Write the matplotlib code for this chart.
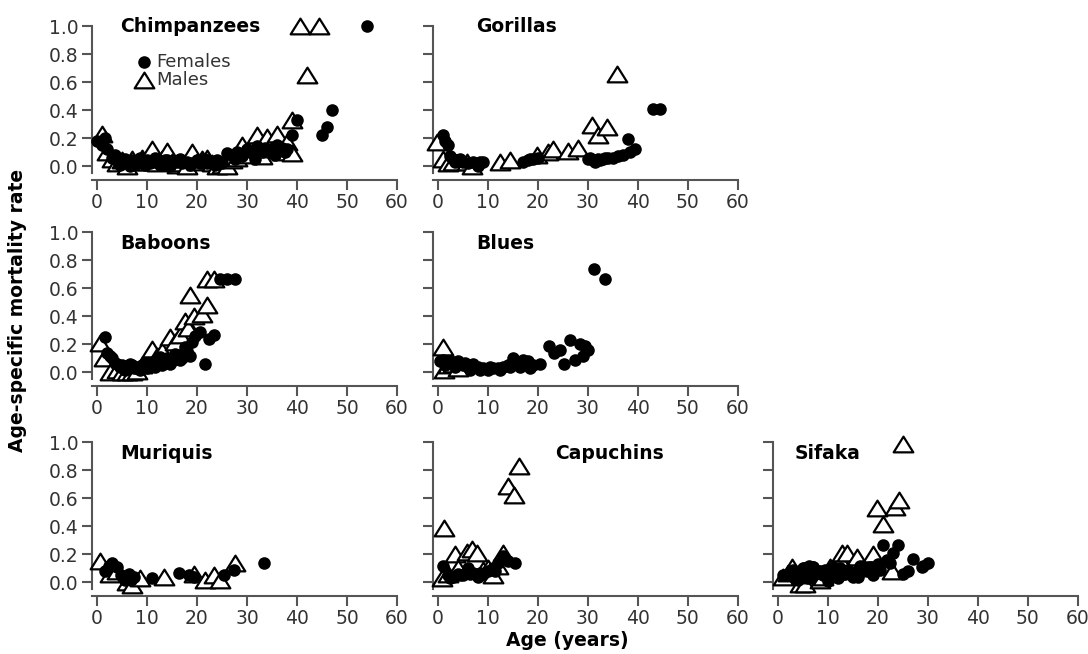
import numpy as np
import matplotlib.pyplot as plt
from matplotlib.path import Path

# age (years) / age-specific mortality rate
chimp_f_age = [0, 1, 2, 3, 4, 5, 6, 7, 8, 9, 10, 11, 12, 13, 14, 15, 16, 17, 18, 19, 20, 21, 22,
               23, 24, 25, 26, 27, 28, 29, 30, 31, 32, 33, 34, 35, 36, 37, 38, 39, 40, 45, 46, 47, 54,
               1.5, 3.5, 4.5, 5.5, 6.5, 7.5, 8.5, 9.5, 10.5, 11.5, 12.5, 13.5, 14.5, 16.5, 18.5,
               20.5, 21.5, 23.5, 27.5, 29.5, 31.5, 33.5, 35.5, 37.5]
chimp_f_rate = [.18, .15, .12, .06, .04, .03, .03, .04, .02, .03, .04, .03, .05, .03, .04, .02, .03,
                .02, .03, .02, .04, .03, .02, .03, .04, .02, .09, .08, .10, .07, .12, .09, .14, .10,
                .12, .09, .15, .13, .12, .22, .33, .22, .28, .40, 1.0,
                .20, .08, .01, .05, .0, .02, .06, .01, .02, .06, .01, .04, .0, .05, .01,
                .02, .05, .01, .05, .10, .05, .13, .08, .10]
chimp_m_age = [1, 2, 3, 4, 5, 6, 7, 8, 9, 10, 11, 12, 13, 14, 15, 16, 17, 18, 19, 20, 21, 22, 23,
               24, 25, 26, 27, 28, 29, 30, 31, 32, 33, 34, 35, 36, 37, 38, 39, 39, 40.6, 42, 44.3]
chimp_m_rate = [.23, .10, .05, .02, .04, .0, .05, .03, .06, .03, .12, .02, .05, .11, .03, .01, .02,
                .0, .10, .03, .05, .06, .02, .0, .01, .0, .04, .06, .15, .08, .14, .22, .07, .21,
                .12, .23, .10, .17, .09, .33, 1.0, .65, 1.0]

gorilla_f_age = [1, 2, 2.5, 4, 5, 6, 8, 8.5, 17, 18, 19, 20, 30, 31, 32, 33, 34, 35, 36, 37, 38,
                 39.5, 43, 44.5, 1.5, 3, 3.5, 4.5, 7, 9, 18.5, 30.5, 31.5, 32.5, 33.5, 38.5]
gorilla_f_rate = [.22, .15, .07, .04, .03, .02, .0, .03, .03, .04, .05, .06, .05, .04, .05, .05,
                  .06, .06, .07, .08, .19, .12, .41, .41, .18, .05, .03, .05, .03, .03, .05,
                  .06, .03, .04, .06, .10]
gorilla_m_age = [-0.2, 1, 2, 3, 5.8, 6.8, 12.5, 14.5, 19.8, 22, 23, 26, 28, 30.8, 32.1, 33.9, 35.9]
gorilla_m_rate = [.17, .05, .02, .03, .03, .0, .03, .04, .08, .10, .12, .11, .13, .29, .22,
                  .28, .66]

baboon_f_age = [1.6, 2, 3, 4, 5, 6, 7, 8, 9, 10, 11, 12, 13, 14, 15, 16, 17, 18, 19, 20.6,
                21.6, 22.3, 23.3, 24.5, 26, 27.5, 2.5, 3.5, 4.5, 5.5, 6.5, 7.5, 8.5, 9.5, 10.5,
                11.5, 12.5, 13.5, 14.5, 15.5, 16.5, 17.5, 18.5, 19.5]
baboon_f_rate = [.25, .14, .10, .06, .05, .04, .05, .04, .05, .03, .06, .08, .05, .10, .08, .12,
                 .10, .15, .22, .29, .06, .24, .27, .67, .67, .67, .12, .07, .04, .02, .06, .03,
                 .02, .07, .06, .04, .11, .09, .06, .13, .09, .18, .12, .26]
baboon_m_age = [0.6, 1.3, 2.6, 4, 5, 6, 7, 8, 9, 10, 11, 12, 13, 14.6, 15.5, 16.6, 17.6, 18.2,
                18.6, 19.3, 20.9, 21.9, 21.9, 23.3]
baboon_m_rate = [.21, .10, .0, .02, .0, .0, .0, .01, .05, .08, .17, .12, .15, .25, .22, .27, .37,
                 .32, .55, .40, .42, .48, .67, .67]

blue_f_age = [0.5, 1, 2, 3, 4, 5, 6, 7, 8, 9, 10, 11, 12, 13, 14, 15, 16, 17, 18, 19, 20.5, 22.3,
              23.3, 24.5, 25.3, 26.5, 27.5, 28.5, 29.1, 30.1, 31.3, 33.5, 1.5, 2.5, 3.5, 5.5,
              6.5, 8.5, 10.5, 12.5, 14.5, 16.5, 18.5, 29.5]
blue_f_rate = [.08, .09, .07, .06, .08, .05, .04, .06, .04, .03, .02, .03, .03, .04, .05, .10,
               .06, .09, .08, .05, .06, .19, .14, .16, .06, .23, .09, .20, .12, .16, .74, .67,
               .05, .08, .04, .07, .02, .02, .04, .02, .04, .04, .03, .19]
blue_m_age = [1.1, 1.3, 2, 3, 4]
blue_m_rate = [.18, .02, .05, .06, .03]

muriqui_f_age = [1.6, 2.9, 3.9, 4.8, 6.3, 7.3, 10.9, 16.3, 18.3, 19.3, 25.3, 27.3, 33.3, 2.3, 5.5,
                 6.8]
muriqui_f_rate = [.08, .14, .11, .05, .06, .04, .03, .07, .05, .04, .05, .09, .14, .12, .02, .02]
muriqui_m_age = [0.6, 2.6, 4, 5.9, 7, 8.6, 13.3, 19.3, 21.6, 23.3, 24.6, 27.6]
muriqui_m_rate = [.15, .06, .08, .0, -.02, .03, .04, .06, .02, .05, .02, .14]

capuchin_f_age = [1, 2, 3, 4, 5, 6, 7, 8, 9, 10, 11, 12, 13, 14, 15.5, 2.5, 4.5, 6.5, 8.5, 11.5]
capuchin_f_rate = [.12, .05, .04, .06, .05, .10, .07, .04, .06, .08, .10, .14, .19, .15, .14,
                   .03, .05, .06, .07, .08]
capuchin_m_age = [1.3, 0.8, 2, 3.5, 4, 5.8, 6.8, 7.8, 9, 10, 11, 12, 13.1, 14.1, 15.3, 16.3]
capuchin_m_rate = [.39, .03, .06, .20, .10, .22, .24, .21, .09, .10, .05, .12, .21, .69, .62, .83]

sifaka_f_age = [1, 2, 2.5, 3, 4, 4, 5, 5.3, 6, 6.3, 7, 7.1, 8, 8.5, 9, 10, 10.1, 11, 11.1, 12,
                13, 13.5, 14, 14.8, 15, 15.8, 16, 17, 17.1, 18, 19, 19.1, 20, 21.1, 21.8, 23.1,
                24.1, 25.1, 26, 27.1, 28.8, 29, 30.1, 3.5, 5.8, 7.5, 9.5, 12.5, 16.5, 18.5, 20.5,
                22.5]
sifaka_f_rate = [.05, .06, .05, .09, .06, .02, .10, .10, .03, .12, .11, .11, .08, .08, .05, .01,
                 .06, .07, .11, .03, .06, .06, .09, .07, .04, .08, .04, .10, .10, .08, .05, .10,
                 .13, .27, .16, .21, .27, .06, .08, .17, .11, .12, .14, .04, .08, .06, .09, .10,
                 .12, .11, .09, .14]
sifaka_m_age = [1.1, 2, 2.8, 4.5, 5.5, 6, 7, 8.5, 9, 10.5, 11, 12.5, 12.8, 13.8, 15, 15.8, 17,
                18, 19.1, 19.8, 21.1, 22.8, 23.5, 24.3, 25.1]
sifaka_m_rate = [.04, .07, .11, -.01, -.01, .05, .08, .02, .04, .11, .08, .16, .21, .21, .12, .18,
                 .10, .14, .20, .53, .42, .08, .54, .59, .99]

# name, column, row, title position (age, rate), females, males
panels = [
    ("Chimpanzees", 0, 0, (4.6, 1.0), chimp_f_age, chimp_f_rate, chimp_m_age, chimp_m_rate),
    ("Gorillas", 1, 0, (7.7, 1.0), gorilla_f_age, gorilla_f_rate, gorilla_m_age, gorilla_m_rate),
    ("Baboons", 0, 1, (4.6, 0.92), baboon_f_age, baboon_f_rate, baboon_m_age, baboon_m_rate),
    ("Blues", 1, 1, (7.8, 0.92), blue_f_age, blue_f_rate, blue_m_age, blue_m_rate),
    ("Muriquis", 0, 2, (4.6, 0.92), muriqui_f_age, muriqui_f_rate, muriqui_m_age, muriqui_m_rate),
    ("Capuchins", 1, 2, (23.5, 0.92), capuchin_f_age, capuchin_f_rate, capuchin_m_age, capuchin_m_rate),
    ("Sifaka", 2, 2, (3.3, 0.92), sifaka_f_age, sifaka_f_rate, sifaka_m_age, sifaka_m_rate),
]

W, H = 1088, 654
col_x0 = [97, 437.7, 777.7]      # pixel of age 0
row_y0 = [166, 372.3, 582.3]     # pixel of rate 0
px_year, px_unit = 5.0, 140.0
xlim = (-1, 61)
ylim = (-0.1, 1.08)

# wide open triangle, like the original symbol
tri = Path([(-1, -0.8), (1, -0.8), (0, 0.8), (-1, -0.8)],
           [Path.MOVETO, Path.LINETO, Path.LINETO, Path.CLOSEPOLY])

axis_col = "#555555"
txt_col = "#333333"
fs = 13.5

fig = plt.figure(figsize=(W / 100, H / 100), dpi=100)

for name, c, r, tpos, fa, fr, ma, mr in panels:
    left = col_x0[c] + xlim[0] * px_year
    right = col_x0[c] + xlim[1] * px_year
    top = row_y0[r] - ylim[1] * px_unit
    bottom = row_y0[r] - ylim[0] * px_unit
    ax = fig.add_axes([left / W, 1 - bottom / H, (right - left) / W, (bottom - top) / H])
    ax.set_xlim(*xlim)
    ax.set_ylim(*ylim)
    ax.patch.set_alpha(0)

    m = ax.scatter(ma, mr, marker=tri, s=200, facecolor="white", edgecolor="black",
                   linewidths=1.6, clip_on=False, zorder=3, label="Males")
    f = ax.scatter(fa, fr, marker="o", s=82, color="black", linewidths=0,
                   clip_on=False, zorder=4, label="Females")

    ax.text(tpos[0], tpos[1], name, fontsize=fs, fontweight="bold", va="center", ha="left")

    for s in ["top", "right"]:
        ax.spines[s].set_visible(False)
    ax.spines["left"].set_bounds(-0.05, 1.0)
    ax.spines["bottom"].set_bounds(-1, 60)
    for s in ["left", "bottom"]:
        ax.spines[s].set_color(axis_col)
        ax.spines[s].set_linewidth(1.5)

    ax.set_xticks(np.arange(0, 61, 10))
    ax.set_yticks(np.arange(0, 1.01, 0.2))
    if c == 0:
        ax.set_yticklabels(["%.1f" % v for v in np.arange(0, 1.01, 0.2)])
    else:
        ax.set_yticklabels([])
    ax.tick_params(direction="out", length=7.5, width=1.5, color=axis_col,
                   labelsize=fs, labelcolor=txt_col, pad=2)

    if name == "Chimpanzees":
        ax.legend(handles=[f, m], loc="upper left", bbox_to_anchor=(8.2, 0.81),
                  bbox_transform=ax.transData, frameon=False, fontsize=13,
                  handlelength=0.7, handletextpad=0.3, borderpad=0, borderaxespad=0,
                  labelspacing=0.0, scatterpoints=1, labelcolor=txt_col)

fig.text(18 / W, 1 - 310 / H, "Age-specific mortality rate", rotation=90, fontsize=fs,
         fontweight="bold", ha="center", va="center")
fig.text(567 / W, 1 - 641 / H, "Age (years)", fontsize=fs, fontweight="bold",
         ha="center", va="center")

fig.savefig("out.png", dpi=100)
